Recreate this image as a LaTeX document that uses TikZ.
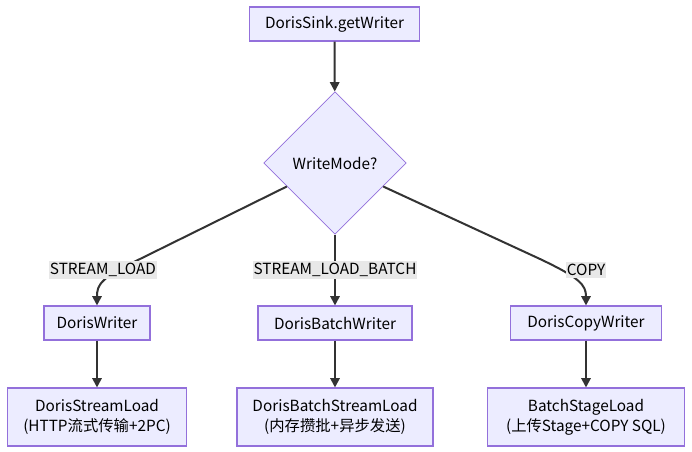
\documentclass[tikz,border=0pt]{standalone}
\usepackage{fontspec}
\setmainfont{Noto Sans CJK SC}
\usetikzlibrary{shapes.geometric,arrows.meta}

\begin{document}
\begin{tikzpicture}[x=0.75pt, y=-0.75pt,
    box/.style={draw=borderColour, fill=fillColour, line width=0.8pt, minimum height=25.5pt,
        inner sep=2pt, align=center, font=\fontsize{11.5}{15}\selectfont},
    tallbox/.style={box, minimum height=43.5pt},
    decision/.style={diamond, draw=borderColour, fill=fillColour, line width=0.6pt,
        minimum width=107pt, minimum height=107pt, inner sep=0pt, font=\fontsize{11.5}{15}\selectfont},
    edge/.style={draw=lineColour, line width=1.5pt, -{Triangle[length=7pt,width=7pt]}},
    elabel/.style={fill=labelColour, inner xsep=0.5pt, inner ysep=1.5pt, font=\fontsize{11.5}{14}\selectfont}]

    \definecolor{fillColour}{HTML}{ECECFF}
    \definecolor{borderColour}{HTML}{9370DB}
    \definecolor{lineColour}{HTML}{333333}
    \definecolor{labelColour}{HTML}{E8E8E8}

    \useasboundingbox (0,0) rectangle (692,452);

    % Entry and decision
    \node[box, minimum width=127pt] (sink) at (334.5,24) {DorisSink.getWriter};
    \node[decision] (mode) at (335,163) {WriteMode?};

    % Writers
    \node[box, minimum width=79.5pt] (writer) at (97,323) {DorisWriter};
    \node[box, minimum width=115.5pt] (batchWriter) at (335,323) {DorisBatchWriter};
    \node[box, minimum width=113pt] (copyWriter) at (586,323) {DorisCopyWriter};

    % Loaders
    \node[tallbox, minimum width=134pt] (streamLoad) at (97,417) {DorisStreamLoad\\(HTTP流式传输+2PC)};
    \node[tallbox, minimum width=147pt] (batchLoad) at (335,417) {DorisBatchStreamLoad\\(内存攒批+异步发送)};
    \node[tallbox, minimum width=148pt] (stageLoad) at (586,417) {BatchStageLoad\\(上传Stage+COPY SQL)};

    % Edges
    \draw[edge] (sink) -- (mode);
    \draw[edge] (mode.206) -- (140,259) .. controls (100,278) and (97,285) .. (writer);
    \draw[edge] (mode) -- (batchWriter);
    \draw[edge] (mode.334) -- (540,259) .. controls (580,278) and (586,285) .. (copyWriter);
    \draw[edge] (writer) -- (streamLoad);
    \draw[edge] (batchWriter) -- (batchLoad);
    \draw[edge] (copyWriter) -- (stageLoad);

    % Edge labels
    \node[elabel] (lblStream) at (103,270) {STREAM\_LOAD};
    \node[elabel] (lblBatch) at (335,270) {STREAM\_LOAD\_BATCH};
    \node[elabel] (lblCopy) at (586,270) {COPY};

\end{tikzpicture}
\end{document}
